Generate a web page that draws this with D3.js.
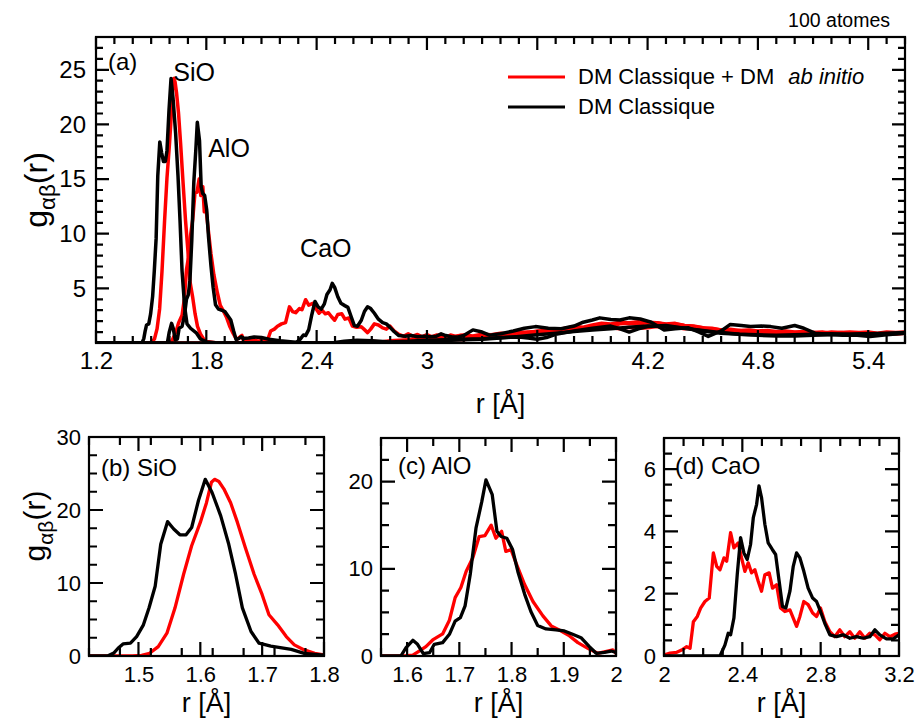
<!DOCTYPE html>
<html><head><meta charset="utf-8">
<script src="https://cdn.jsdelivr.net/npm/d3@7"></script>
<style>body{margin:0;background:#fff}text{font-family:"Liberation Sans",Arial,Helvetica,sans-serif;fill:#000}</style>
</head><body>
<svg id="chart" width="917" height="725"></svg>
<script>
// ---------------- DATA ----------------
const seriesNames = ["DM Classique + DM ", "DM Classique"];
const seriesItalic = ["ab initio", ""];
const seriesColors = ["#ff0000", "#000000"];
const pairNames = ["SiO", "AlO", "CaO"];

// g(r) : [r (Å), g]
const sioRed = [[1.2,0],[1.49,0],[1.505,0.1],[1.518,0.37],[1.532,1.29],[1.546,3.12],[1.559,6.57],[1.573,11.2],[1.586,15.1],[1.6,18.3],[1.61,21.0],[1.618,23.8],[1.623,24.2],[1.63,23.9],[1.638,22.9],[1.649,21.0],[1.66,18.3],[1.673,14.8],[1.687,11.2],[1.7,8.4],[1.711,5.65],[1.725,4.27],[1.739,2.66],[1.752,1.52],[1.768,0.83],[1.785,0.37],[1.8,0.14],[1.85,0.03],[1.9,0],[2.7,0],[2.75,0.05],[2.8,0.08],[2.85,0.15],[2.9,0.1],[2.95,0.2],[3.0,0.25],[3.05,0.2],[3.1,0.3],[3.15,0.35],[3.2,0.3],[3.25,0.45],[3.3,0.5],[3.35,0.45],[3.4,0.6],[3.45,0.65],[3.5,0.6],[3.55,0.8],[3.6,0.85],[3.65,0.95],[3.7,0.9],[3.75,1.15],[3.8,1.3],[3.85,1.25],[3.9,1.5],[3.95,1.6],[4.0,1.55],[4.05,1.75],[4.1,1.8],[4.15,1.7],[4.2,1.9],[4.25,1.85],[4.3,1.75],[4.35,1.8],[4.4,1.6],[4.45,1.5],[4.5,1.4],[4.55,1.2],[4.6,1.15],[4.65,1.0],[4.7,0.95],[4.75,0.85],[4.8,0.9],[4.85,0.8],[4.9,0.85],[4.95,0.8],[5.0,0.9],[5.05,0.85],[5.1,0.95],[5.15,0.9],[5.2,1.0],[5.25,0.95],[5.3,1.0],[5.35,0.95],[5.4,1.0],[5.45,0.9],[5.5,1.0],[5.55,0.95],[5.6,1.0]];
const sioBlack = [[1.2,0],[1.45,0],[1.46,0.4],[1.467,1.06],[1.475,1.65],[1.487,1.75],[1.497,2.66],[1.508,4.27],[1.517,6.57],[1.527,9.55],[1.536,15.3],[1.547,18.4],[1.557,17.4],[1.567,16.6],[1.577,16.6],[1.586,17.6],[1.597,21.3],[1.608,24.2],[1.619,22.4],[1.633,19.2],[1.646,15.3],[1.657,11.2],[1.668,6.6],[1.682,3.35],[1.695,1.75],[1.714,1.35],[1.747,0.9],[1.768,0.37],[1.8,0.1],[1.85,0.02],[1.9,0],[2.6,0],[2.7,0.02],[2.8,0.05],[2.9,0.1],[3.0,0.15],[3.1,0.22],[3.2,0.3],[3.3,0.35],[3.4,0.45],[3.5,0.6],[3.6,0.75],[3.7,0.9],[3.8,1.05],[3.9,1.2],[4.0,1.3],[4.1,1.45],[4.2,1.55],[4.3,1.5],[4.4,1.35],[4.5,1.15],[4.6,0.95],[4.7,0.8],[4.8,0.7],[4.9,0.65],[5.0,0.65],[5.1,0.7],[5.2,0.75],[5.3,0.8],[5.4,0.85],[5.5,0.85],[5.6,0.9]];
const aloRed = [[1.2,0],[1.595,0],[1.611,0.11],[1.623,0.57],[1.636,1.07],[1.649,1.84],[1.668,2.53],[1.681,4.1],[1.692,6.7],[1.703,7.85],[1.713,9.7],[1.726,11.3],[1.738,13.7],[1.749,13.8],[1.761,15.0],[1.77,13.5],[1.781,14.3],[1.789,12.0],[1.799,12.2],[1.809,10.6],[1.825,8.2],[1.841,6.25],[1.86,4.6],[1.876,3.45],[1.895,2.87],[1.911,2.3],[1.927,1.53],[1.946,0.88],[1.965,0.31],[1.984,0.57],[1.994,0.69],[2.0,0.3],[2.02,0.35],[2.04,0.2],[2.06,0.3],[2.08,0.15],[2.1,0.2],[2.15,0.1],[2.2,0.05],[2.3,0],[2.5,0],[2.6,0.05],[2.65,0.1],[2.7,0.15],[2.75,0.1],[2.8,0.2],[2.85,0.25],[2.9,0.3],[2.95,0.35],[3.0,0.3],[3.05,0.45],[3.1,0.5],[3.15,0.45],[3.2,0.6],[3.25,0.55],[3.3,0.7],[3.35,0.75],[3.4,0.7],[3.45,0.85],[3.5,0.9],[3.55,1.0],[3.6,1.05],[3.65,1.2],[3.7,1.15],[3.75,1.35],[3.8,1.5],[3.85,1.45],[3.9,1.65],[3.95,1.8],[4.0,1.75],[4.05,1.9],[4.1,1.85],[4.15,1.95],[4.2,1.8],[4.25,1.85],[4.3,1.7],[4.35,1.75],[4.4,1.6],[4.45,1.55],[4.5,1.4],[4.55,1.35],[4.6,1.2],[4.65,1.1],[4.7,1.15],[4.75,1.0],[4.8,1.05],[4.85,0.95],[4.9,1.0],[4.95,0.9],[5.0,0.95],[5.05,0.9],[5.1,0.95],[5.15,0.85],[5.2,0.9],[5.25,0.85],[5.3,0.9],[5.35,0.85],[5.4,0.9],[5.45,0.8],[5.5,0.9],[5.55,0.85],[5.6,0.9]];
const aloBlack = [[1.2,0],[1.588,0],[1.598,0.96],[1.611,1.8],[1.62,1.34],[1.631,0.27],[1.643,0.38],[1.652,1.34],[1.668,1.53],[1.681,2.49],[1.692,4.0],[1.702,4.4],[1.711,5.75],[1.721,9.4],[1.732,14.7],[1.743,17.7],[1.751,20.2],[1.763,18.5],[1.772,14.3],[1.78,13.7],[1.791,13.5],[1.802,12.2],[1.812,9.7],[1.825,7.1],[1.837,5.1],[1.85,3.5],[1.866,3.1],[1.885,3.0],[1.901,2.87],[1.917,2.49],[1.933,2.1],[1.949,1.07],[1.962,0.31],[1.978,0.42],[1.991,0.57],[2.0,0.42],[2.03,0.45],[2.06,0.55],[2.1,0.5],[2.14,0.35],[2.2,0.2],[2.3,0.05],[2.4,0],[2.5,0.05],[2.55,0.15],[2.62,0.25],[2.7,0.2],[2.8,0.1],[2.9,0.15],[3.0,0.25],[3.1,0.3],[3.2,0.35],[3.3,0.4],[3.4,0.5],[3.5,0.55],[3.55,0.45],[3.6,0.35],[3.65,0.5],[3.7,0.8],[3.8,1.1],[3.9,1.35],[4.0,1.55],[4.05,1.3],[4.1,1.0],[4.15,1.3],[4.2,1.5],[4.3,1.6],[4.4,1.35],[4.5,1.1],[4.6,0.9],[4.7,0.8],[4.8,0.75],[4.9,0.7],[5.0,0.75],[5.1,0.8],[5.2,0.85],[5.3,0.8],[5.4,0.85],[5.5,0.9],[5.6,0.95]];
const caoRed = [[1.2,0],[1.95,0],[2.0,0.03],[2.031,0.09],[2.065,0.12],[2.09,0.19],[2.116,0.3],[2.133,0.25],[2.15,1.1],[2.17,1.27],[2.187,1.54],[2.209,1.75],[2.231,1.86],[2.252,3.31],[2.269,2.88],[2.286,2.77],[2.306,3.15],[2.32,3.04],[2.34,3.96],[2.357,3.47],[2.379,3.63],[2.396,3.15],[2.413,2.72],[2.43,2.99],[2.447,2.67],[2.464,2.77],[2.481,2.4],[2.498,2.08],[2.515,2.61],[2.537,2.67],[2.554,2.18],[2.575,2.29],[2.595,1.54],[2.617,1.43],[2.643,1.48],[2.66,1.22],[2.677,0.95],[2.694,1.27],[2.714,1.75],[2.736,1.65],[2.759,1.38],[2.779,1.27],[2.799,1.54],[2.821,1.11],[2.847,0.78],[2.872,0.62],[2.898,0.84],[2.923,0.62],[2.949,0.78],[2.974,0.57],[3.0,0.78],[3.026,0.57],[3.051,0.73],[3.077,0.68],[3.102,0.52],[3.128,0.73],[3.153,0.62],[3.179,0.7],[3.2,0.73],[3.25,0.65],[3.3,0.8],[3.35,0.75],[3.4,0.9],[3.45,0.85],[3.5,1.0],[3.55,0.95],[3.6,1.1],[3.65,1.05],[3.7,1.2],[3.75,1.15],[3.8,1.3],[3.85,1.2],[3.9,1.35],[3.95,1.3],[4.0,1.4],[4.05,1.3],[4.1,1.45],[4.15,1.35],[4.2,1.4],[4.25,1.5],[4.3,1.35],[4.35,1.45],[4.4,1.3],[4.45,1.4],[4.5,1.25],[4.55,1.3],[4.6,1.2],[4.65,1.25],[4.7,1.15],[4.75,1.2],[4.8,1.1],[4.85,1.15],[4.9,1.05],[4.95,1.1],[5.0,1.0],[5.05,1.05],[5.1,0.95],[5.15,1.0],[5.2,0.9],[5.25,0.95],[5.3,0.9],[5.35,0.85],[5.4,0.9],[5.45,0.85],[5.5,0.9],[5.55,0.85],[5.6,0.9]];
const caoBlack = [[1.2,0],[2.286,0],[2.311,0.35],[2.328,0.73],[2.34,0.68],[2.357,1.22],[2.374,2.61],[2.391,3.8],[2.408,3.31],[2.425,3.1],[2.442,3.58],[2.456,4.44],[2.473,4.87],[2.485,5.46],[2.498,5.09],[2.515,4.23],[2.532,3.63],[2.553,3.42],[2.57,3.26],[2.588,2.4],[2.605,1.59],[2.622,1.54],[2.643,2.08],[2.66,2.88],[2.677,3.31],[2.694,3.15],[2.714,2.72],[2.736,2.18],[2.759,1.86],[2.779,1.75],[2.799,1.43],[2.821,1.05],[2.847,0.68],[2.881,0.62],[2.915,0.68],[2.949,0.57],[2.983,0.62],[3.017,0.57],[3.051,0.62],[3.077,0.84],[3.102,0.68],[3.136,0.55],[3.17,0.55],[3.2,0.68],[3.25,1.2],[3.3,1.0],[3.34,0.72],[3.4,0.85],[3.47,1.1],[3.53,1.35],[3.59,1.5],[3.66,1.35],[3.73,1.3],[3.8,1.55],[3.85,1.9],[3.9,2.1],[3.94,2.3],[4.0,2.15],[4.05,2.1],[4.1,2.3],[4.16,2.2],[4.22,1.9],[4.29,1.2],[4.35,1.3],[4.42,1.4],[4.48,1.0],[4.53,0.6],[4.6,1.1],[4.65,1.7],[4.71,1.6],[4.76,1.5],[4.82,1.55],[4.87,1.5],[4.93,1.35],[5.0,1.6],[5.05,1.35],[5.11,0.9],[5.18,0.8],[5.26,0.72],[5.34,0.7],[5.41,0.6],[5.5,0.75],[5.6,0.9]];

// tick labels
const topXTicks = [1.2,1.8,2.4,3,3.6,4.2,4.8,5.4];
const topYTicks = [5,10,15,20,25];
const bXTicks = [1.5,1.6,1.7,1.8];
const bYTicks = [0,10,20,30];
const cXTicks = [1.6,1.7,1.8,1.9,2];
const cYTicks = [0,10,20];
const dXTicks = [2,2.4,2.8,3.2];
const dYTicks = [0,2,4,6];

// ---------------- DRAW ----------------
const svg = d3.select("#chart");
const fmt = d => String(+(+d).toFixed(2));
const redSets = [sioRed, aloRed, caoRed];
const blackSets = [sioBlack, aloBlack, caoBlack];

function panel(o){
  const g = svg.append("g");
  const x = d3.scaleLinear().domain(o.xd).range([o.x0, o.x1]);
  const y = d3.scaleLinear().domain(o.yd).range([o.y1, o.y0]);
  const id = "clip" + o.id;
  svg.append("defs").append("clipPath").attr("id", id).append("rect")
    .attr("x", o.x0).attr("y", o.y0).attr("width", o.x1 - o.x0).attr("height", o.y1 - o.y0);
  const line = d3.line().x(d => x(d[0])).y(d => y(d[1]));
  const lg = g.append("g").attr("clip-path", `url(#${id})`);
  o.red.forEach(s => lg.append("path").attr("d", line(s)).attr("fill","none")
    .attr("stroke", seriesColors[0]).attr("stroke-width", o.lw).attr("stroke-linejoin","round"));
  o.black.forEach(s => lg.append("path").attr("d", line(s)).attr("fill","none")
    .attr("stroke", seriesColors[1]).attr("stroke-width", o.lw).attr("stroke-linejoin","round"));

  // frame
  g.append("rect").attr("x", o.x0).attr("y", o.y0).attr("width", o.x1 - o.x0).attr("height", o.y1 - o.y0)
    .attr("fill","none").attr("stroke","#000").attr("stroke-width",2.2);

  // inward ticks on the four sides
  const minorX = d3.range(o.xd[0], o.xd[1] + 1e-9, o.xminor).map(v => +v.toFixed(4));
  const minorY = d3.range(o.yd[0], o.yd[1] + 1e-9, o.yminor).map(v => +v.toFixed(4));
  const p = d3.path();
  const addX = (v, L) => { const px = x(v);
    p.moveTo(px, o.y1); p.lineTo(px, o.y1 - L); p.moveTo(px, o.y0); p.lineTo(px, o.y0 + L); };
  const addY = (v, L) => { const py = y(v);
    p.moveTo(o.x0, py); p.lineTo(o.x0 + L, py); p.moveTo(o.x1, py); p.lineTo(o.x1 - L, py); };
  minorX.forEach(v => addX(v, o.mn)); o.xt.forEach(v => addX(v, o.maj));
  minorY.forEach(v => addY(v, o.mn)); o.yt.forEach(v => addY(v, o.maj));
  g.append("path").attr("d", p.toString()).attr("fill","none").attr("stroke","#000")
    .attr("stroke-width", 2.2);

  const clean = sel => { sel.select(".domain").remove(); sel.selectAll(".tick line").remove(); };
  g.append("g").attr("transform",`translate(0,${o.y1})`)
    .call(d3.axisBottom(x).tickValues(o.xt).tickSize(0).tickPadding(o.xpad).tickFormat(fmt)).call(clean)
    .selectAll("text").attr("font-size", o.fs).attr("font-family","Liberation Sans, Arial, sans-serif").attr("fill","#000");
  g.append("g").attr("transform",`translate(${o.x0},0)`)
    .call(d3.axisLeft(y).tickValues(o.yt).tickSize(0).tickPadding(o.ypad).tickFormat(fmt)).call(clean)
    .selectAll("text").attr("font-size", o.fs).attr("font-family","Liberation Sans, Arial, sans-serif").attr("fill","#000");

  g.append("text").attr("x", (o.x0 + o.x1)/2).attr("y", o.xlabY).attr("text-anchor","middle")
    .attr("font-size", 27).text("r [Å]");
  if (o.ylab) {
    const t = g.append("text").attr("transform",`translate(${o.ylabX},${o.ylabY}) rotate(-90)`)
      .attr("text-anchor","middle").attr("font-size", o.ylabFs);
    t.append("tspan").text("g");
    t.append("tspan").attr("font-size", o.ylabFs * 0.7).attr("dy", 8).text("αβ");
    t.append("tspan").attr("dy", -8).text("(r)");
  }
  return {g, x, y};
}

// top panel
const A = panel({id:"a", x0:96, x1:905, y0:37, y1:343, xd:[1.2,5.6], yd:[0,28],
  xt: topXTicks, yt: topYTicks, xminor:0.1, yminor:1, maj:13, mn:7, fs:24, xpad:9, ypad:10, lw:3.5,
  red: redSets, black: blackSets, xlabY:413, ylab:true, ylabX:47, ylabY:190, ylabFs:32});
A.g.append("text").attr("x",108).attr("y",70).attr("font-size",24).text("(a)");
A.g.append("text").attr("x",A.x(1.62)).attr("y",81).attr("font-size",25).text(pairNames[0]);
A.g.append("text").attr("x",A.x(1.81)).attr("y",157).attr("font-size",25).text(pairNames[1]);
A.g.append("text").attr("x",A.x(2.31)).attr("y",257).attr("font-size",25).text(pairNames[2]);

// legend
const leg = svg.append("g");
[0,1].forEach(i => {
  const yy = [77,107][i];
  leg.append("line").attr("x1",508).attr("x2",565).attr("y1",yy).attr("y2",yy)
    .attr("stroke", seriesColors[i]).attr("stroke-width",3.2);
  const t = leg.append("text").attr("x",578).attr("y",yy+7).attr("font-size",22).text(seriesNames[i]);
  if (seriesItalic[i]) t.append("tspan").attr("font-style","italic").attr("dx",8).text(seriesItalic[i]);
});
svg.append("text").attr("x",890).attr("y",27).attr("text-anchor","end").attr("font-size",19.5).text("100 atomes");

// bottom panels
const B = panel({id:"b", x0:89, x1:324, y0:437, y1:656, xd:[1.42,1.8], yd:[0,30],
  xt: bXTicks, yt: bYTicks, xminor:0.05, yminor:2.5, maj:14, mn:8, fs:22, xpad:10, ypad:8, lw:3.3,
  red:[sioRed], black:[sioBlack], xlabY:712, ylab:true, ylabX:45, ylabY:526, ylabFs:30});
B.g.append("text").attr("x",101).attr("y",476).attr("font-size",24).text("(b) " + pairNames[0]);

const C = panel({id:"c", x0:381, x1:616, y0:438, y1:656, xd:[1.55,2.0], yd:[0,25],
  xt: cXTicks, yt: cYTicks, xminor:0.05, yminor:2.5, maj:14, mn:8, fs:22, xpad:10, ypad:8, lw:3.3,
  red:[aloRed], black:[aloBlack], xlabY:712, ylab:false});
C.g.append("text").attr("x",398).attr("y",474).attr("font-size",24).text("(c) " + pairNames[1]);

const D = panel({id:"d", x0:664, x1:899, y0:438, y1:656, xd:[2,3.2], yd:[0,7],
  xt: dXTicks, yt: dYTicks, xminor:0.1, yminor:0.5, maj:14, mn:8, fs:22, xpad:10, ypad:8, lw:3.3,
  red:[caoRed], black:[caoBlack], xlabY:712, ylab:false});
D.g.append("text").attr("x",675).attr("y",474).attr("font-size",24).text("(d) " + pairNames[2]);
</script>
</body></html>
